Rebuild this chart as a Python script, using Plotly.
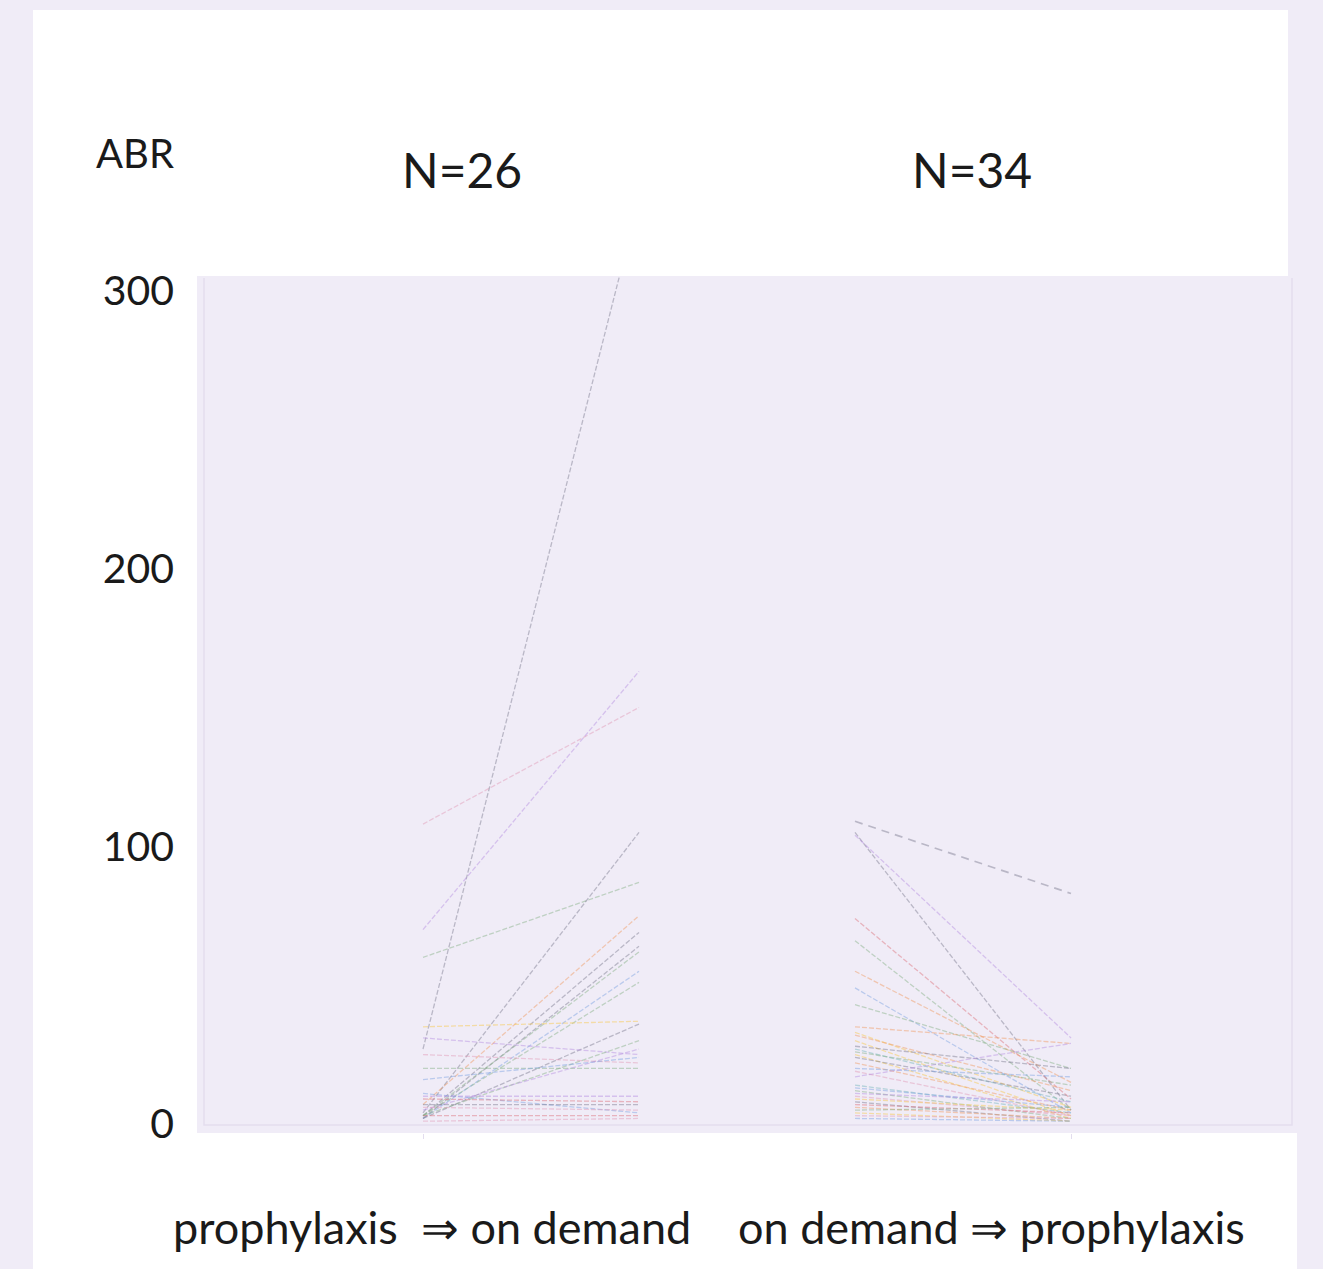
import plotly.graph_objects as go

# ABR per patient before and after switching regimen
g1_pre = [27, 108, 70, 60, 4, 7, 3, 2, 3, 2, 3, 35, 2, 31, 3, 5, 25, 20, 16, 11, 10, 9, 7, 6, 3, 1]
g1_post = [333, 150, 163, 87, 105, 75, 69, 64, 62, 55, 51, 37, 36, 25, 30, 27, 22, 20, 24, 4, 10, 8, 7, 5, 3, 2]

g2_pre = [109, 105, 104, 74, 66, 55, 49, 43, 35, 33, 32, 30, 28, 27, 26, 25, 24, 22, 20, 19,
          17, 14, 13, 12, 11, 10, 9, 8, 7, 6, 5, 4, 3, 2]
g2_post = [83, 5, 31, 9, 5, 15, 4, 20, 29, 6, 12, 3, 20, 8, 14, 2, 10, 5, 17, 3,
           29, 4, 6, 2, 8, 3, 5, 1, 4, 2, 6, 1, 2, 1]

group_labels = ["prophylaxis\u00a0\u00a0\u21d2 on demand", "on demand \u21d2 prophylaxis"]
group_counts = ["N=26", "N=34"]
y_ticks = [0, 100, 200, 300]
y_title = "ABR"

# line colours per patient
PAL = {
    "gray": "rgba(120,120,140,0.45)",
    "pink": "rgba(225,150,180,0.45)",
    "orange": "rgba(240,150,90,0.45)",
    "green": "rgba(130,175,130,0.45)",
    "blue": "rgba(120,160,225,0.45)",
    "purple": "rgba(180,140,225,0.45)",
    "yellow": "rgba(245,205,100,0.55)",
    "red": "rgba(220,110,120,0.45)",
    "teal": "rgba(110,180,185,0.45)",
}
g1_colors = ["gray", "pink", "purple", "green", "gray", "orange", "gray", "gray", "green", "blue",
             "green", "yellow", "gray", "purple", "green", "purple", "pink", "green", "blue", "blue",
             "purple", "red", "gray", "pink", "red", "pink"]
g2_colors = ["gray", "gray", "purple", "red", "green", "orange", "blue", "green", "orange", "yellow",
             "orange", "yellow", "gray", "teal", "green", "yellow", "gray", "orange", "blue", "pink",
             "purple", "teal", "blue", "green", "purple", "pink", "yellow", "gray", "red", "orange",
             "green", "yellow", "pink", "blue"]

W, H = 1323, 1269
L, R, T, B = 197, 30, 276, 136
PW, PH = W - L - R, H - T - B


def px(x):
    return (x - L) / PW


def py(y):
    return (H - B - y) / PH


fig = go.Figure()

for pre, post, cols, x0 in [(g1_pre, g1_post, g1_colors, 1), (g2_pre, g2_post, g2_colors, 3)]:
    for i, (a, b) in enumerate(zip(pre, post)):
        first = (x0 == 3 and i == 0)
        fig.add_trace(go.Scatter(
            x=[x0, x0 + 1], y=[a, b], mode="lines",
            line=dict(color=PAL[cols[i]], width=1.7 if first else 1.3,
                      dash="8px,6px" if first else "5px,2px"),
            showlegend=False, hoverinfo="skip",
        ))

LAV = "#f0ecf7"
FRAME = "#e3ddee"
shapes = [
    # white panel
    dict(type="rect", xref="paper", yref="paper", layer="below",
         x0=px(33), x1=px(1288), y0=py(1269), y1=py(10),
         fillcolor="white", line=dict(width=0)),
    dict(type="rect", xref="paper", yref="paper", layer="below",
         x0=px(33), x1=px(1297), y0=py(1269), y1=py(1133),
         fillcolor="white", line=dict(width=0)),
    # plot area
    dict(type="rect", xref="paper", yref="paper", layer="below",
         x0=0, x1=1, y0=0, y1=1, fillcolor=LAV, line=dict(width=0)),
    # faint frame
    dict(type="path", xref="paper", yref="paper", layer="below",
         path=f"M {px(204)} {py(278)} L {px(204)} {py(1125)} L {px(1292)} {py(1125)} L {px(1292)} {py(278)}",
         line=dict(color=FRAME, width=1.5)),
]

FONT = "Lato, 'Open Sans', sans-serif"
TXT = "#1a1a1a"
ann = [
    dict(text=y_title, x=px(135), y=py(153), font=dict(size=40)),
    dict(text=group_counts[0], x=px(462), y=py(170), font=dict(size=48)),
    dict(text=group_counts[1], x=px(972), y=py(170), font=dict(size=48)),
    dict(text=group_labels[0], x=px(432), y=py(1227), font=dict(size=45)),
    dict(text=group_labels[1], x=px(991), y=py(1227), font=dict(size=45)),
]
for a in ann:
    a.update(xref="paper", yref="paper", showarrow=False, xanchor="center", yanchor="middle")
    a["font"].update(family=FONT, color=TXT)

fig.update_layout(
    width=W, height=H, autosize=False,
    margin=dict(l=L, r=R, t=T, b=B),
    paper_bgcolor=LAV, plot_bgcolor=LAV,
    shapes=shapes, annotations=ann,
    xaxis=dict(range=[1 - 226 / 216, 1 - 226 / 216 + PW / 216], tickvals=[1, 4], ticktext=["", ""],
               ticks="outside", ticklen=5, tickcolor=FRAME, showgrid=False, zeroline=False,
               showline=False, fixedrange=True),
    yaxis=dict(range=[(1124 - (H - B)) / 2.777, (1124 - T) / 2.777], tickvals=y_ticks,
               ticktext=[str(v) for v in y_ticks], ticks="", ticklabelstandoff=22,
               tickfont=dict(family=FONT, size=41, color=TXT),
               showgrid=False, zeroline=False, showline=False, fixedrange=True),
)

fig.write_html("out.html")
